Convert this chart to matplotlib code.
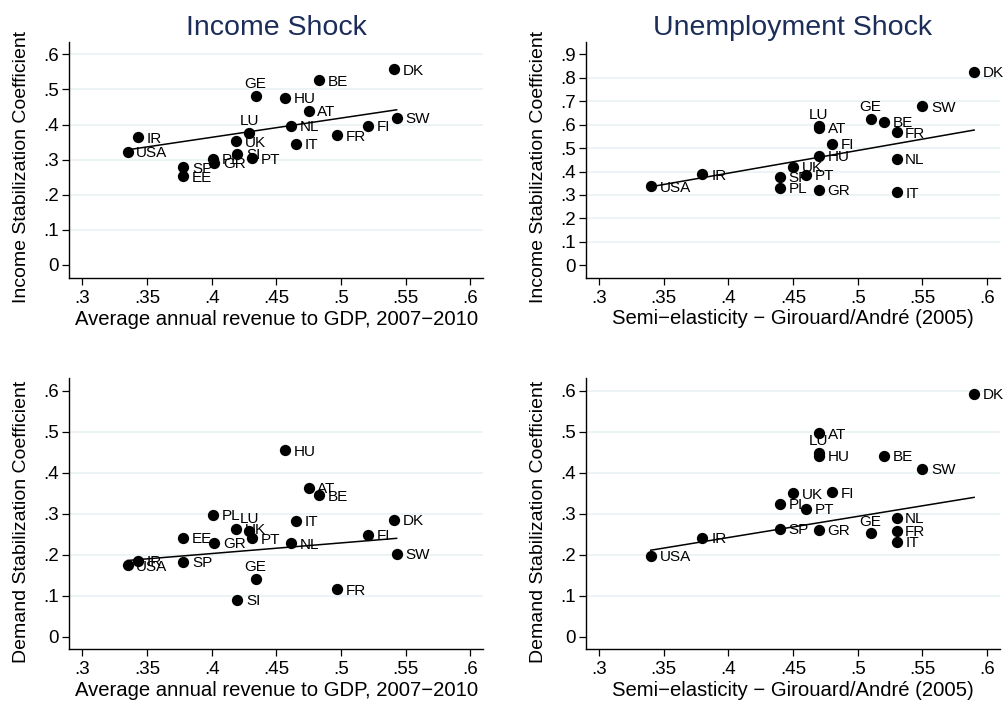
import numpy as np
import matplotlib
matplotlib.use("Agg")
import matplotlib.pyplot as plt

plt.rcParams['font.family'] = ['Liberation Sans', 'DejaVu Sans']

# ---------------- Data ----------------
# Left panels: Average annual revenue to GDP, 2007-2010
rev_countries = ["DK", "BE", "GE", "HU", "AT", "SW", "FI", "NL", "LU", "FR",
                 "IR", "UK", "IT", "USA", "SI", "PT", "PL", "GR", "SP", "EE"]
rev_x = [0.541, 0.483, 0.434, 0.457, 0.475, 0.543, 0.521, 0.461, 0.429, 0.497,
         0.343, 0.419, 0.465, 0.335, 0.420, 0.431, 0.401, 0.402, 0.378, 0.378]
income_left = [0.557, 0.526, 0.481, 0.476, 0.439, 0.420, 0.396, 0.397, 0.376, 0.370,
               0.364, 0.352, 0.346, 0.322, 0.317, 0.304, 0.302, 0.291, 0.279, 0.253]
demand_left = [0.285, 0.345, 0.142, 0.455, 0.363, 0.202, 0.249, 0.228, 0.258, 0.116,
               0.185, 0.263, 0.283, 0.174, 0.090, 0.240, 0.297, 0.229, 0.183, 0.242]

# Right panels: Semi-elasticity - Girouard/Andre (2005)
se_countries = ["DK", "SW", "GE", "BE", "LU", "AT", "FR", "FI", "HU",
                "NL", "UK", "IR", "PT", "SP", "USA", "PL", "GR", "IT"]
se_x = [0.59, 0.55, 0.51, 0.52, 0.47, 0.47, 0.53, 0.48, 0.47,
        0.53, 0.45, 0.38, 0.46, 0.44, 0.34, 0.44, 0.47, 0.53]
income_right = [0.825, 0.678, 0.626, 0.613, 0.593, 0.586, 0.568, 0.519, 0.468,
                0.454, 0.420, 0.388, 0.387, 0.377, 0.338, 0.331, 0.323, 0.311]
demand_right = [0.593, 0.410, 0.252, 0.442, 0.448, 0.497, 0.259, 0.352, 0.441,
                0.290, 0.350, 0.242, 0.312, 0.263, 0.197, 0.324, 0.261, 0.232]

# Fitted lines: (value at min x, value at max x)
fit_income_left = [0.328, 0.442]
fit_demand_left = [0.186, 0.240]
fit_income_right = [0.335, 0.577]
fit_demand_right = [0.211, 0.340]

above_labels = ["GE", "LU"]  # labels placed at 12 o'clock

x_ticks = [0.3, 0.35, 0.4, 0.45, 0.5, 0.55, 0.6]
x_ticklabels = [".3", ".35", ".4", ".45", ".5", ".55", ".6"]
y_ticks_6 = [0, 0.1, 0.2, 0.3, 0.4, 0.5, 0.6]
y_ticklabels_6 = ["0", ".1", ".2", ".3", ".4", ".5", ".6"]
y_ticks_9 = [0, 0.1, 0.2, 0.3, 0.4, 0.5, 0.6, 0.7, 0.8, 0.9]
y_ticklabels_9 = ["0", ".1", ".2", ".3", ".4", ".5", ".6", ".7", ".8", ".9"]

xlabel_left = "Average annual revenue to GDP, 2007\u22122010"
xlabel_right = "Semi\u2212elasticity \u2212 Girouard/Andr\u00e9 (2005)"
ylabel_top = "Income Stabilization Coefficient"
ylabel_bottom = "Demand Stabilization Coefficient"
title_left = "Income Shock"
title_right = "Unemployment Shock"

# ---------------- Figure ----------------
W, H = 1008, 706
fig = plt.figure(figsize=(W / 100, H / 100), dpi=100)
fig.patch.set_facecolor("white")

GRID = "#eaf2f3"
TITLE_C = "#1c2d5a"


def px_axes(l, t, r, b):
    return fig.add_axes([l / W, 1 - b / H, (r - l) / W, (b - t) / H])


def panel(ax, names, xs, ys, fit, xlim, ylim, yticks, yticklabels, gridvals,
          xlabel, ylabel, title=None):
    ax.set_xlim(*xlim)
    ax.set_ylim(*ylim)
    for g in gridvals:
        ax.axhline(g, color=GRID, lw=1.2, zorder=0)
    xs = np.asarray(xs)
    ys = np.asarray(ys)
    ax.scatter(xs, ys, s=66, color="black", zorder=3, linewidths=0)
    ax.plot([xs.min(), xs.max()], fit, color="black", lw=1.1, zorder=2)
    for n, x, y in zip(names, xs, ys):
        if n in above_labels:
            ax.annotate(n, (x, y), xytext=(0, 5.5), textcoords="offset points",
                        ha="center", va="baseline", fontsize=11, zorder=4)
        else:
            ax.annotate(n, (x, y), xytext=(6.3, 0), textcoords="offset points",
                        ha="left", va="center_baseline", fontsize=11, zorder=4)
    ax.set_xticks(x_ticks)
    ax.set_xticklabels(x_ticklabels)
    ax.set_yticks(yticks)
    ax.set_yticklabels(yticklabels)
    ax.tick_params(axis="both", direction="out", length=5, width=0.9,
                   labelsize=13.5, color="black")
    ax.tick_params(axis="x", pad=3.5)
    ax.tick_params(axis="y", pad=2.5)
    for s in ["top", "right"]:
        ax.spines[s].set_visible(False)
    for s in ["left", "bottom"]:
        ax.spines[s].set_linewidth(1.0)
    ax.set_xlabel(xlabel, fontsize=14.6, labelpad=2)
    ax.set_ylabel(ylabel, fontsize=14)
    ax.yaxis.set_label_coords(-0.095, 0.47)
    if title:
        ax.set_title(title, fontsize=20.5, color=TITLE_C, pad=5)


ax1 = px_axes(69.3, 41.7, 483.3, 278.3)
panel(ax1, rev_countries, rev_x, income_left, fit_income_left,
      (0.290, 0.610), (-0.038, 0.636),
      y_ticks_6, y_ticklabels_6, [0.1, 0.2, 0.3, 0.4, 0.5, 0.6],
      xlabel_left, ylabel_top, title_left)

ax2 = px_axes(586, 41.7, 1000, 277.7)
panel(ax2, se_countries, se_x, income_right, fit_income_right,
      (0.290, 0.610), (-0.053, 0.954),
      y_ticks_9, y_ticklabels_9, [0.1, 0.2, 0.3, 0.4, 0.5, 0.6, 0.7, 0.8],
      xlabel_right, ylabel_top, title_right)

ax3 = px_axes(69.3, 378.5, 483.3, 649)
panel(ax3, rev_countries, rev_x, demand_left, fit_demand_left,
      (0.290, 0.610), (-0.030, 0.630),
      y_ticks_6, y_ticklabels_6, [0.1, 0.2, 0.3, 0.4, 0.5],
      xlabel_left, ylabel_bottom)

ax4 = px_axes(586, 378.5, 1000, 649)
panel(ax4, se_countries, se_x, demand_right, fit_demand_right,
      (0.290, 0.610), (-0.030, 0.630),
      y_ticks_6, y_ticklabels_6, [0.1, 0.2, 0.3, 0.4, 0.5, 0.6],
      xlabel_right, ylabel_bottom)

fig.savefig("out.png", dpi=100, facecolor="white")
